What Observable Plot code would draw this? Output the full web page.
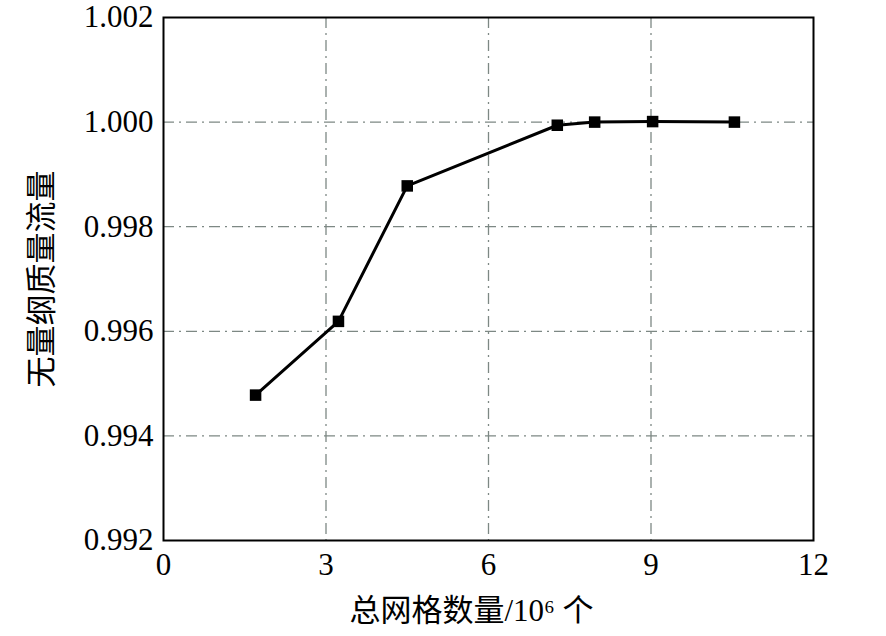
<!DOCTYPE html>
<html>
<head>
<meta charset="utf-8">
<script src="https://cdn.jsdelivr.net/npm/d3@7"></script>
<script src="https://cdn.jsdelivr.net/npm/@observablehq/plot@0.6"></script>
<style>
  body { margin: 0; background: #fff; }
  #chart svg, #chart svg text { font-family: "Liberation Serif", "Times New Roman", "DejaVu Serif", "Noto Sans CJK SC", serif !important; font-variant: normal !important; font-variant-numeric: normal !important; }
</style>
</head>
<body>
<div id="chart"></div>
<script>
const gridCounts = [1.70, 3.23, 4.50, 7.27, 7.96, 9.03, 10.54];
const massFlow = [0.99478, 0.99619, 0.99878, 0.99994, 1.00000, 1.00001, 1.00000];
const xTicks = [0, 3, 6, 9, 12];
const yTicks = [0.992, 0.994, 0.996, 0.998, 1.000, 1.002];
const xGrid = [3, 6, 9];
const yGrid = [0.994, 0.996, 0.998, 1.000];
const xLabel = "总网格数量/10⁶ 个";
const yLabel = "无量纲质量流量";

const data = gridCounts.map((x, i) => ({x, y: massFlow[i]}));

const gridStyle = {stroke: "#7d8884", strokeOpacity: 1, strokeWidth: 1.3, strokeDasharray: "11,5,2,5"};

const chart = Plot.plot({
  width: 886,
  height: 636,
  marginLeft: 163,
  marginRight: 73,
  marginTop: 17,
  marginBottom: 96,
  style: {color: "#000", background: "#fff"},
  x: {domain: [0, 12]},
  y: {domain: [0.992, 1.002]},
  marks: [
    Plot.gridX(xGrid, gridStyle),
    Plot.gridY(yGrid, gridStyle),
    Plot.frame({stroke: "#000", strokeWidth: 2}),
    Plot.axisX(xTicks, {tickSize: 0, tickPadding: 12, fontSize: 31, tickFormat: d => String(d), label: null}),
    Plot.text([xLabel], {frameAnchor: "bottom", lineAnchor: "top", textAnchor: "middle", dy: 58, dx: -17, fontSize: 31, fill: "#000"}),
    Plot.axisY(yTicks, {tickSize: 0, tickPadding: 10, fontSize: 31, tickFormat: d3.format(".3f"),
      label: yLabel, labelArrow: "none", labelAnchor: "center", labelOffset: 134}),
    Plot.line(data, {x: "x", y: "y", stroke: "#000", strokeWidth: 3}),
    Plot.dot(data, {x: "x", y: "y", symbol: "square", r: 6.5, fill: "#000", stroke: "none"})
  ]
});
document.getElementById("chart").appendChild(chart);
</script>
</body>
</html>
